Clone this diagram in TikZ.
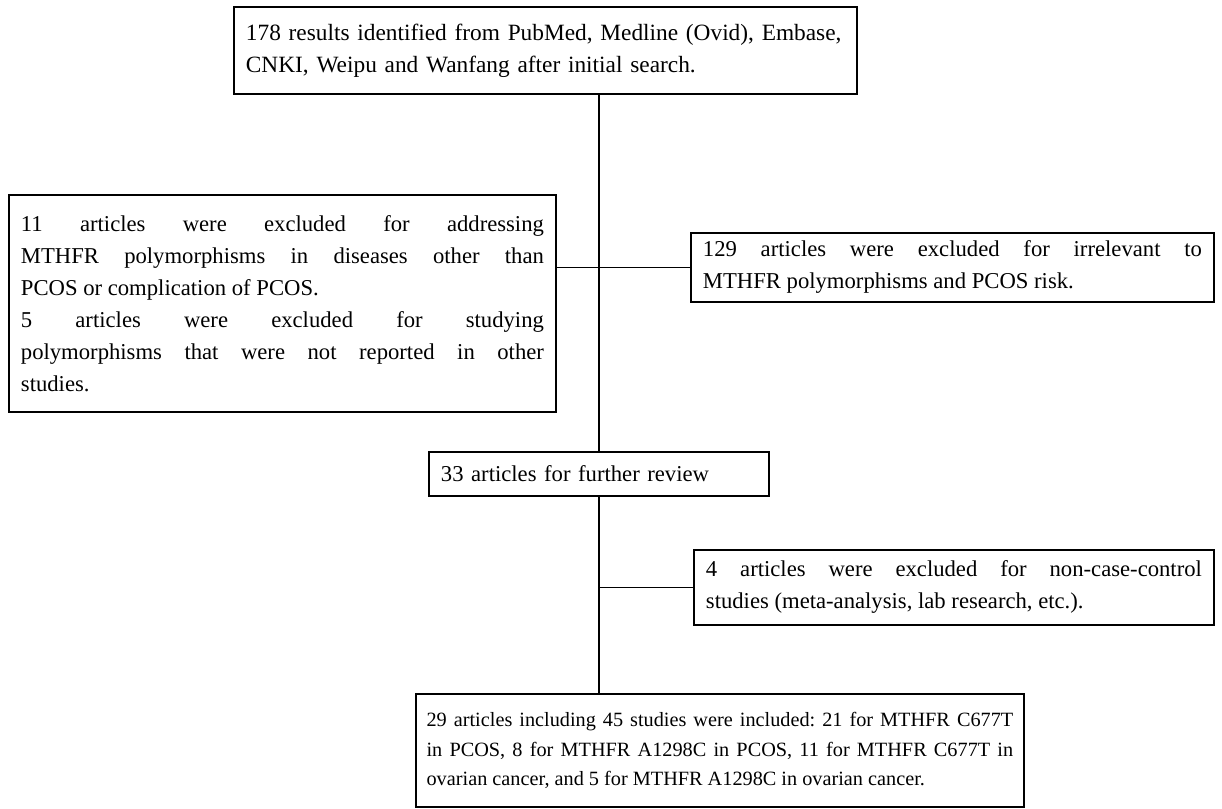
\documentclass[tikz,border=0pt]{standalone}
\usepackage{fontspec}
\setmainfont{Liberation Serif}
\begin{document}
\frenchspacing
\begin{tikzpicture}[x=0.75pt,y=-0.75pt,
  box/.style={draw,line width=1.4pt,anchor=north west,inner xsep=9pt,inner ysep=2pt,
    font=\fontsize{17}{24}\selectfont},
  link/.style={line width=1.4pt}]
\useasboundingbox (0,0) rectangle (1222,808);
\node[box,minimum width=467.25pt,minimum height=65.25pt,text width=449.25pt,align=left,
  font=\fontsize{17.5}{24}\selectfont] (top) at (233,6)
  {\mbox{178 results identified from PubMed, Medline (Ovid), Embase,}\\\mbox{CNKI, Weipu and Wanfang after initial search.}};
\node[box,minimum width=410.25pt,minimum height=162.75pt,text width=392.25pt,align=justify] (left) at (8,194)
  {11 articles were excluded for addressing\linebreak MTHFR polymorphisms in diseases other than\linebreak PCOS or complication of PCOS.\\5 articles were excluded for studying\linebreak polymorphisms that were not reported in other\linebreak studies.};
\node[box,minimum width=392.25pt,minimum height=51.75pt,text width=374.25pt,align=justify] (right) at (690,232)
  {129 articles were excluded for irrelevant to\linebreak MTHFR polymorphisms and PCOS risk.};
\node[box,minimum width=255pt,minimum height=33pt,text width=237pt,align=left] (mid) at (428,451)
  {33 articles for further review};
\node[box,minimum width=390pt,minimum height=56.25pt,text width=372pt,align=justify] (four) at (693,549)
  {4 articles were excluded for non-case-control\linebreak studies (meta-analysis, lab research, etc.).};
\node[box,minimum width=456pt,minimum height=84.75pt,text width=440pt,inner xsep=8pt,align=justify,
  font=\fontsize{15.2}{22}\selectfont] (bottom) at (415,693)
  {29 articles including 45 studies were included: 21 for MTHFR C677T\linebreak in PCOS, 8 for MTHFR A1298C in PCOS, 11 for MTHFR C677T in\linebreak ovarian cancer, and 5 for MTHFR A1298C in ovarian cancer.};
\draw[link] (mid.north) -- (mid.north |- top.south);
\draw[link] (right.west) -- (right.west -| left.east);
\draw[link] (mid.south) -- (mid.south |- bottom.north);
\draw[link] (four.west) -- (four.west -| mid.south);
\end{tikzpicture}
\end{document}
